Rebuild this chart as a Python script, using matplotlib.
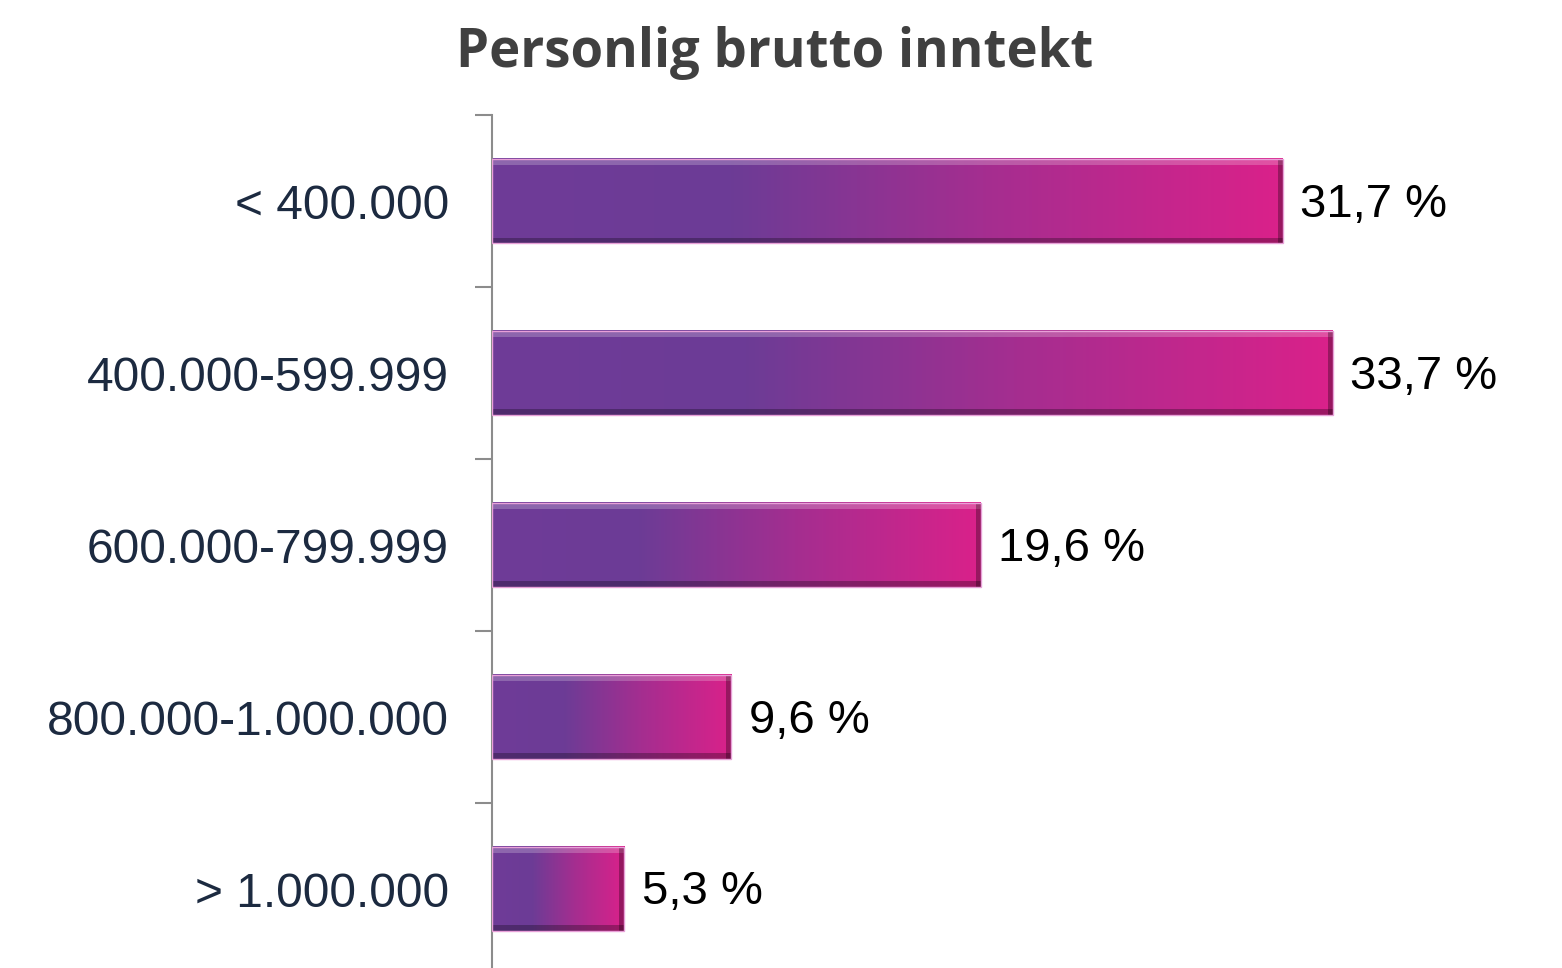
import numpy as np
import matplotlib.pyplot as plt
from matplotlib.colors import LinearSegmentedColormap
from matplotlib.patches import Rectangle

# data
categories = ["< 400.000", "400.000-599.999", "600.000-799.999",
              "800.000-1.000.000", "> 1.000.000"]
values = [31.7, 33.7, 19.6, 9.6, 5.3]
value_labels = ["31,7 %", "33,7 %", "19,6 %", "9,6 %", "5,3 %"]

cmap = LinearSegmentedColormap.from_list(
    "bar", [(0.0, "#6f3b98"), (0.3, "#6c3c96"), (0.62, "#a42e90"), (1.0, "#da218a")])

fig = plt.figure(figsize=(15.62, 9.68), dpi=100)
ax = fig.add_axes([0.315, -0.0072, 0.685, 0.888])

h = 0.49
grad = np.linspace(0, 1, 256).reshape(1, -1)
for i, v in enumerate(values):
    y0, y1 = i - h / 2, i + h / 2
    ax.imshow(grad, cmap=cmap, aspect="auto", extent=[0, v, y1, y0],
              interpolation="bicubic", zorder=2)
    # bevel: light top, dark bottom and right edge
    ax.add_patch(Rectangle((0, y0), v, h * 0.07, color="white", alpha=0.22,
                           lw=0, zorder=3))
    ax.add_patch(Rectangle((0, y1 - h * 0.07), v, h * 0.07, color="black",
                           alpha=0.28, lw=0, zorder=3))
    ax.add_patch(Rectangle((v - 0.2, y0), 0.2, h, color="black", alpha=0.3,
                           lw=0, zorder=3))
    ax.add_patch(Rectangle((0, y0), v, h, fill=False, ec="#e8a0d8", lw=1,
                           zorder=4))
    ax.text(v + 0.7, i + 0.02, value_labels[i], va="center", ha="left",
            fontsize=34, family="Liberation Sans", color="black")

ax.set_xlim(0, 42.9)
ax.set_ylim(4.5, -0.5)
ax.set_yticks(range(len(categories)))
ax.set_yticklabels(categories, fontsize=34.5, family="Liberation Sans",
                   color="#1c2a40")
ax.set_yticks(np.arange(-0.5, 5, 1), minor=True)
ax.tick_params(axis="y", which="major", length=0, pad=31)
ax.tick_params(axis="y", which="minor", length=12, width=1.5, color="#8c8c8c")
ax.set_xticks([])
for s in ["top", "right", "bottom"]:
    ax.spines[s].set_visible(False)
ax.spines["left"].set_color("#8c8c8c")
ax.spines["left"].set_linewidth(1.5)

fig.text(0.496, 0.945, "Personlig brutto inntekt", ha="center", va="center",
         fontsize=38, fontweight="bold", family="Open Sans", color="#404040")

fig.savefig("out.png", dpi=100)
